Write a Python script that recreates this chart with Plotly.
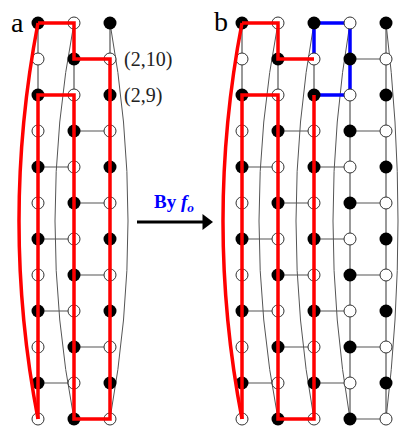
import plotly.graph_objects as go

# ---------------- data (lattice coordinates: column index, row index 0=bottom) -------------
ROWS = list(range(12))
FILLED_A = [
    [0, 1, 0, 1, 0, 1, 0, 1, 0, 1, 0, 1],
    [1, 0, 1, 0, 1, 0, 1, 0, 1, 0, 1, 0],
    [0, 1, 0, 1, 0, 1, 0, 1, 0, 1, 0, 1],
]
FILLED_B = [
    [0, 1, 0, 1, 0, 1, 0, 1, 0, 1, 0, 1],
    [1, 0, 1, 0, 1, 0, 1, 0, 1, 0, 1, 0],
    [0, 1, 0, 1, 0, 1, 0, 1, 0, 1, 0, 1],
    [1, 0, 1, 0, 1, 0, 1, 0, 1, 0, 1, 0],
    [0, 1, 0, 1, 0, 1, 0, 1, 0, 1, 0, 1],
]
# horizontal rungs per row: list of left column index of each rung
RUNGS_A = [[1], [0], [1], [0], [1], [0], [1], [0], [1], [0], [1], [0]]
RUNGS_B = [[1, 3], [0, 2], [1, 3], [0, 2], [1, 3], [0, 2],
           [1, 3], [0, 2], [1, 3], [0, 2], [1, 3], [0, 2]]
RED_A = [(0, 11), (1, 11), (1, 10), (2, 10), (2, 0), (1, 0), (1, 9), (0, 9), (0, 0)]
RED_B1 = [(0, 11), (1, 11), (1, 10), (2, 10)]
RED_B2 = [(2, 9), (2, 0), (1, 0), (1, 9), (0, 9), (0, 0)]
BLUE_B = [(2, 10), (2, 11), (3, 11), (3, 10), (3, 9), (2, 9)]
LABELS = ["(2,10)", "(2,9)"]
LABEL_ROWS = [10, 9]

# ---------------- layout constants ----------------
PX = 36.0                 # pixels per lattice unit
OFF_A = 0.0
OFF_B = 204 / PX
BOW_A = [-19, -19, 18]    # pixel bow of the periodic arcs
BOW_B = [-19, -19, -18, -17, 12]
GRAY = "#555555"

fig = go.Figure()
shapes = []


def add_panel(filled, rungs, off, bows, red_arc_col):
    ncol = len(filled)
    xs, ys = [], []
    for c in range(ncol):
        for r in ROWS[:-1]:
            xs += [off + c, off + c, None]
            ys += [r, r + 1, None]
    for r, lst in zip(ROWS, rungs):
        for c in lst:
            if c + 1 < ncol:
                xs += [off + c, off + c + 1, None]
                ys += [r, r, None]
    fig.add_trace(go.Scatter(x=xs, y=ys, mode="lines",
                             line=dict(color=GRAY, width=1.2),
                             hoverinfo="skip", showlegend=False))
    top, bot = ROWS[-1], ROWS[0]
    for c in range(ncol):
        b = bows[c] / PX
        x0 = off + c
        red = (c == red_arc_col)
        shapes.append(dict(
            type="path", xref="x", yref="y",
            path=f"M {x0},{bot} Q {x0 + 2 * b},{(top + bot) / 2} {x0},{top}",
            line=dict(color="red" if red else GRAY, width=3.5 if red else 1.0),
            layer="above" if red else "below"))


def nodes(filled, off):
    fx, fy, ox, oy = [], [], [], []
    for c, col in enumerate(filled):
        for r, v in zip(ROWS, col):
            if v:
                fx.append(off + c); fy.append(r)
            else:
                ox.append(off + c); oy.append(r)
    fig.add_trace(go.Scatter(x=ox, y=oy, mode="markers",
                             marker=dict(size=12, color="white",
                                         line=dict(color="#333333", width=1)),
                             hoverinfo="skip", showlegend=False))
    fig.add_trace(go.Scatter(x=fx, y=fy, mode="markers",
                             marker=dict(size=13, color="black", line=dict(width=0)),
                             hoverinfo="skip", showlegend=False))


def path_xy(segments, off):
    xs, ys = [], []
    for seg in segments:
        for c, r in seg:
            xs.append(off + c); ys.append(r)
        xs.append(None); ys.append(None)
    return xs, ys


def px2u(px):
    return (px - 38) / PX


def py2r(py):
    return (419 - py) / PX


add_panel(FILLED_A, RUNGS_A, OFF_A, BOW_A, 0)
add_panel(FILLED_B, RUNGS_B, OFF_B, BOW_B, 0)

bx, by = path_xy([BLUE_B], OFF_B)
fig.add_trace(go.Scatter(x=bx, y=by, mode="lines", line=dict(color="#0000ff", width=3.5),
                         hoverinfo="skip", showlegend=False))

nodes(FILLED_A, OFF_A)
nodes(FILLED_B, OFF_B)

ra_x, ra_y = path_xy([RED_A], OFF_A)
rb_x, rb_y = path_xy([RED_B1, RED_B2], OFF_B)
fig.add_trace(go.Scatter(x=ra_x + rb_x, y=ra_y + rb_y, mode="lines",
                         line=dict(color="#ff0000", width=3.5),
                         hoverinfo="skip", showlegend=False))

# transformation arrow
fig.add_trace(go.Scatter(x=[px2u(137), px2u(204)], y=[py2r(222), py2r(222)], mode="lines",
                         line=dict(color="black", width=3), hoverinfo="skip", showlegend=False))
fig.add_trace(go.Scatter(x=[px2u(206)], y=[py2r(222)], mode="markers",
                         marker=dict(symbol="triangle-right", size=14, color="black"),
                         hoverinfo="skip", showlegend=False))

SERIF = "Liberation Serif, Times New Roman, serif"
ann = []
ann.append(dict(x=px2u(17), y=py2r(22), text="a", showarrow=False,
                font=dict(family=SERIF, size=28, color="black"),
                xanchor="center", yanchor="middle"))
ann.append(dict(x=px2u(221), y=py2r(21), text="b", showarrow=False,
                font=dict(family=SERIF, size=28, color="black"),
                xanchor="center", yanchor="middle"))
for t, r in zip(LABELS, LABEL_ROWS):
    ann.append(dict(x=px2u(122), y=r, text=t, showarrow=False,
                    font=dict(family=SERIF, size=20, color="#222222"),
                    xanchor="left", yanchor="middle"))
ann.append(dict(x=px2u(174), y=py2r(203), text="<b>By <i>f</i></b><sub><i><b>o</b></i></sub>",
                showarrow=False, font=dict(family=SERIF, size=19, color="#0000ff"),
                xanchor="center", yanchor="middle"))

fig.update_layout(
    width=400, height=428, margin=dict(l=0, r=0, t=0, b=0),
    paper_bgcolor="white", plot_bgcolor="white",
    xaxis=dict(range=[px2u(0), px2u(400)], visible=False, fixedrange=True),
    yaxis=dict(range=[py2r(428), py2r(0)], visible=False, fixedrange=True),
    shapes=shapes, annotations=ann, showlegend=False, hovermode=False,
)
fig.write_html("out.html", config={"displayModeBar": False, "staticPlot": True},
               post_script="document.body.style.margin='0';document.body.style.overflow='hidden';")
